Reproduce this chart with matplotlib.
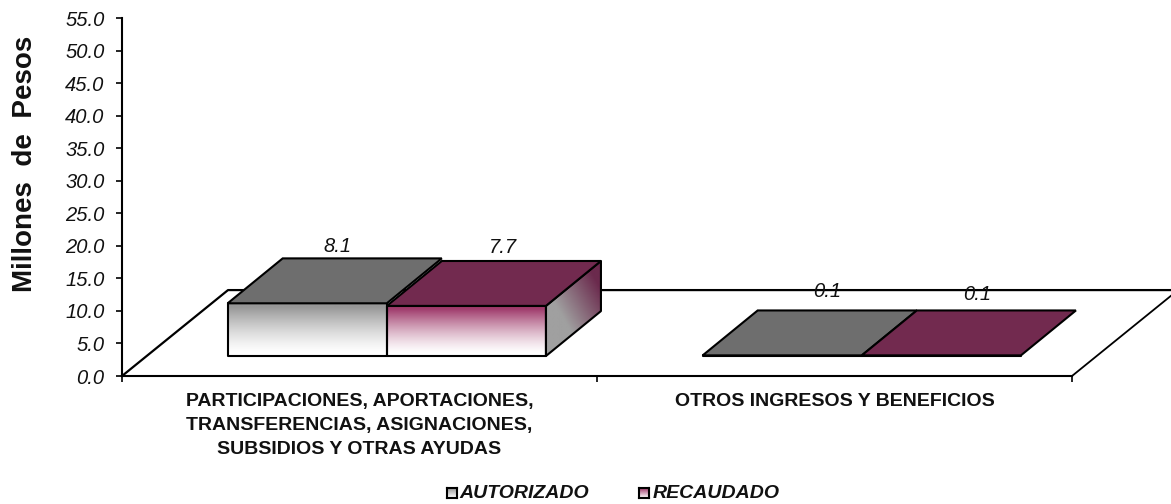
import numpy as np
import matplotlib
matplotlib.use("Agg")
import matplotlib.pyplot as plt
from matplotlib.colors import LinearSegmentedColormap
from matplotlib.patches import Polygon

categories = ["PARTICIPACIONES, APORTACIONES,\nTRANSFERENCIAS, ASIGNACIONES,\nSUBSIDIOS Y OTRAS AYUDAS",
              "OTROS INGRESOS Y BENEFICIOS"]
series_names = ["AUTORIZADO", "RECAUDADO"]
autorizado = [8.1, 0.1]
recaudado = [7.7, 0.1]
yticks = [0, 5, 10, 15, 20, 25, 30, 35, 40, 45, 50, 55]

plt.rcParams["font.family"] = ["Liberation Sans", "DejaVu Sans"]

W, H = 1171, 504
fig = plt.figure(figsize=(W / 100, H / 100), dpi=100)
ax = fig.add_axes([122 / W, 1 - 376 / H, 950 / W, 358 / H])

# depth of the fake 3d, in data units
floor_dx, floor_dy = 0.2232, 13.2
bar_dx, bar_dy = 0.1158, 6.9
bar_w = 0.335
base_y = 3.07
shift = 0.0575

top_cols = ["#6e6e6e", "#722a4f"]
front_cols = ["#979797", "#a03c6c"]
lw = 1.5


def gradient(poly, top, bottom, diagonal=False):
    # paints a gradient and clips it to the polygon
    xs = [p[0] for p in poly]
    ys = [p[1] for p in poly]
    cmap = LinearSegmentedColormap.from_list("g", [bottom, top])
    if diagonal:
        u, v = np.meshgrid(np.linspace(0, 1, 60), np.linspace(0, 1, 60))
        arr = (u + v) / 2
        arr = np.clip((arr - 0.35) / 0.5, 0, 1)
    else:
        arr = np.linspace(0, 1, 100).reshape(-1, 1)
        arr = np.clip((arr - 0.03) / 0.9, 0, 1) ** 1.4
    im = ax.imshow(arr, extent=[min(xs), max(xs), min(ys), max(ys)], origin="lower",
                   cmap=cmap, aspect="auto", zorder=3, clip_on=True)
    patch = Polygon(poly, closed=True, fc="none", ec="k", lw=lw, joinstyle="round",
                    zorder=4, clip_on=False)
    ax.add_patch(patch)
    im.set_clip_path(patch)


# floor
ax.plot([0, floor_dx, 2 + floor_dx], [0, floor_dy, floor_dy], color="k", lw=1.6,
        clip_on=False, zorder=1, solid_joinstyle="round")
ax.plot([2, 2 + floor_dx], [0, floor_dy], color="k", lw=1.3, clip_on=False, zorder=1)

label_offsets = [[(-25, 12), (-18, 13)], [(-10, 19), (-19, 16)]]

for i, vals in enumerate(zip(autorizado, recaudado)):
    centre = i + 0.5 + shift
    for j, v in enumerate(vals):
        x0 = centre - bar_w + j * bar_w
        x1 = x0 + bar_w
        y0 = base_y
        y1 = base_y + v
        gradient([(x0, y0), (x1, y0), (x1, y1), (x0, y1)], front_cols[j], "#ffffff")
        top = Polygon([(x0, y1), (x1, y1), (x1 + bar_dx, y1 + bar_dy), (x0 + bar_dx, y1 + bar_dy)],
                      closed=True, fc=top_cols[j], ec="k", lw=lw, zorder=5, clip_on=False)
        ax.add_patch(top)
        if j == 1 and v > 1:
            gradient([(x1, y0), (x1 + bar_dx, y0 + bar_dy), (x1 + bar_dx, y1 + bar_dy), (x1, y1)],
                     "#6b2a4d", "#a0a0a0", diagonal=True)
        off = label_offsets[i][j]
        ax.annotate("%.1f" % v, xy=((x0 + x1) / 2 + bar_dx, y1 + bar_dy), xytext=off,
                    textcoords="offset pixels", ha="center", va="center",
                    fontsize=14.5, style="italic", color="#111111", zorder=6)

ax.set_xlim(0, 2)
ax.set_ylim(0, 55)
ax.patch.set_alpha(0)
for s in ["top", "right"]:
    ax.spines[s].set_visible(False)
for s in ["left", "bottom"]:
    ax.spines[s].set_linewidth(1.5)
    ax.spines[s].set_zorder(2)

ax.set_yticks(yticks)
ax.set_yticklabels(["%.1f" % t for t in yticks], fontsize=14.5, style="italic", color="#111111")
ax.set_xticks([0, 1, 2])
ax.set_xticklabels([])
ax.tick_params(axis="y", length=4, width=1.2, pad=8.5)
ax.tick_params(axis="x", length=4, width=1.2)

for i, cat in enumerate(categories):
    ax.annotate(cat, xy=(i + 0.5, 0), xytext=(0, -17), xycoords="data",
                textcoords="offset pixels", ha="center", va="top",
                fontsize=14, weight="bold", color="#111111", linespacing=1.55,
                annotation_clip=False)

fig.text(25 / W, 1 - 164 / H, "Millones  de  Pesos", rotation=90, ha="center", va="center",
         fontsize=20, weight="bold", color="#111111")

# legend
swatch_x = [447, 639]
text_x = [459, 653]
for k, name in enumerate(series_names):
    sw = fig.add_axes([swatch_x[k] / W, 1 - 498 / H, 10 / W, 10 / H])
    cmap = LinearSegmentedColormap.from_list("s", ["#ffffff", front_cols[k]])
    sw.imshow(np.linspace(0, 1, 20).reshape(-1, 1), origin="lower", cmap=cmap, aspect="auto")
    sw.set_xticks([])
    sw.set_yticks([])
    for s in sw.spines.values():
        s.set_linewidth(1.5)
    fig.text(text_x[k] / W, 1 - 493 / H, name, ha="left", va="center", fontsize=14,
             style="italic", weight="bold", color="#111111")

fig.savefig("out.png", dpi=100)
